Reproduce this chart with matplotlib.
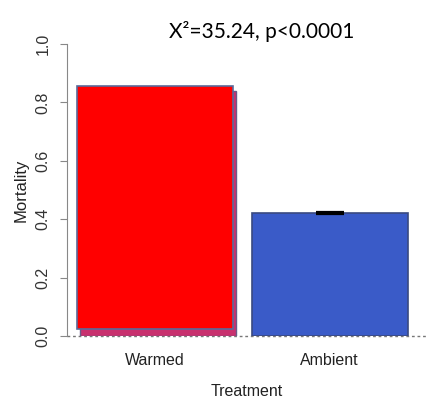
import matplotlib
matplotlib.use("Agg")
import matplotlib.pyplot as plt

categories = ["Warmed", "Ambient"]
mortality = [0.857, 0.421]
errors = [0.0, 0.002]
bar_colors = ["#ff0000", "#3a5bc8"]
title_text = "X²=35.24, p<0.0001"
yticks = [0.0, 0.2, 0.4, 0.6, 0.8, 1.0]
ytick_labels = ["0.0", "0.2", "0.4", "0.6", "0.8", "1.0"]

FAM = ["Liberation Sans", "DejaVu Sans"]

W, H = 427, 400
fig = plt.figure(figsize=(W / 100, H / 100), dpi=100)
ax = fig.add_axes([67 / W, (400 - 336) / H, (427 - 67) / W, (336 - 44) / H])

pos = [0.0, 1.12]
width = 1.0
px = 1 / 156.0

# shadow for first bar (artifact in reference)
ax.bar(pos[0] + 3 * px, mortality[0] - 0.018, width=width, bottom=0,
       color="#c8306e", edgecolor="#6a5a8a", linewidth=1.0, zorder=1)
ax.bar(pos[0], mortality[0] - 0.024, width=width, bottom=0.024,
       color=bar_colors[0], edgecolor="#5a6a9a", linewidth=1.2, zorder=2)
ax.bar(pos[1], mortality[1], width=width, bottom=0,
       color=bar_colors[1], edgecolor="#3a4a80", linewidth=1.2, zorder=2)
ax.errorbar([pos[1]], [mortality[1]], yerr=[errors[1]], fmt="none",
            ecolor="black", elinewidth=1.2, capsize=10, capthick=1.6, zorder=3)

ax.axhline(0, color="#777777", linestyle=(0, (2, 2)), linewidth=1.0, zorder=0, clip_on=False)

ax.set_xlim((67 - 155) * px, (427 - 155) * px)
ax.set_ylim(0, 1.0)

for s in ["top", "right", "bottom"]:
    ax.spines[s].set_visible(False)
ax.spines["left"].set_color("#888888")
ax.spines["left"].set_bounds(0, 1)
ax.set_yticks(yticks)
ax.set_yticklabels(ytick_labels, rotation=90, va="center", fontsize=11.5,
                   color="#333333", family=FAM)
ax.tick_params(axis="y", colors="#888888", length=5, labelcolor="#333333", pad=7)
ax.set_xticks(pos)
ax.set_xticklabels(categories, fontsize=11.5, color="#222222", family=FAM)
ax.tick_params(axis="x", length=0, pad=12)

ax.set_ylabel("Mortality", fontsize=12, color="#222222", family=FAM, labelpad=5)
ax.set_xlabel("Treatment", fontsize=11.5, color="#222222", family=FAM, labelpad=12)

fig.text(262 / W, (400 - 31) / H, title_text, ha="center", va="center",
         fontsize=15, family="Lato", color="black")

fig.savefig("out.png", dpi=100)
